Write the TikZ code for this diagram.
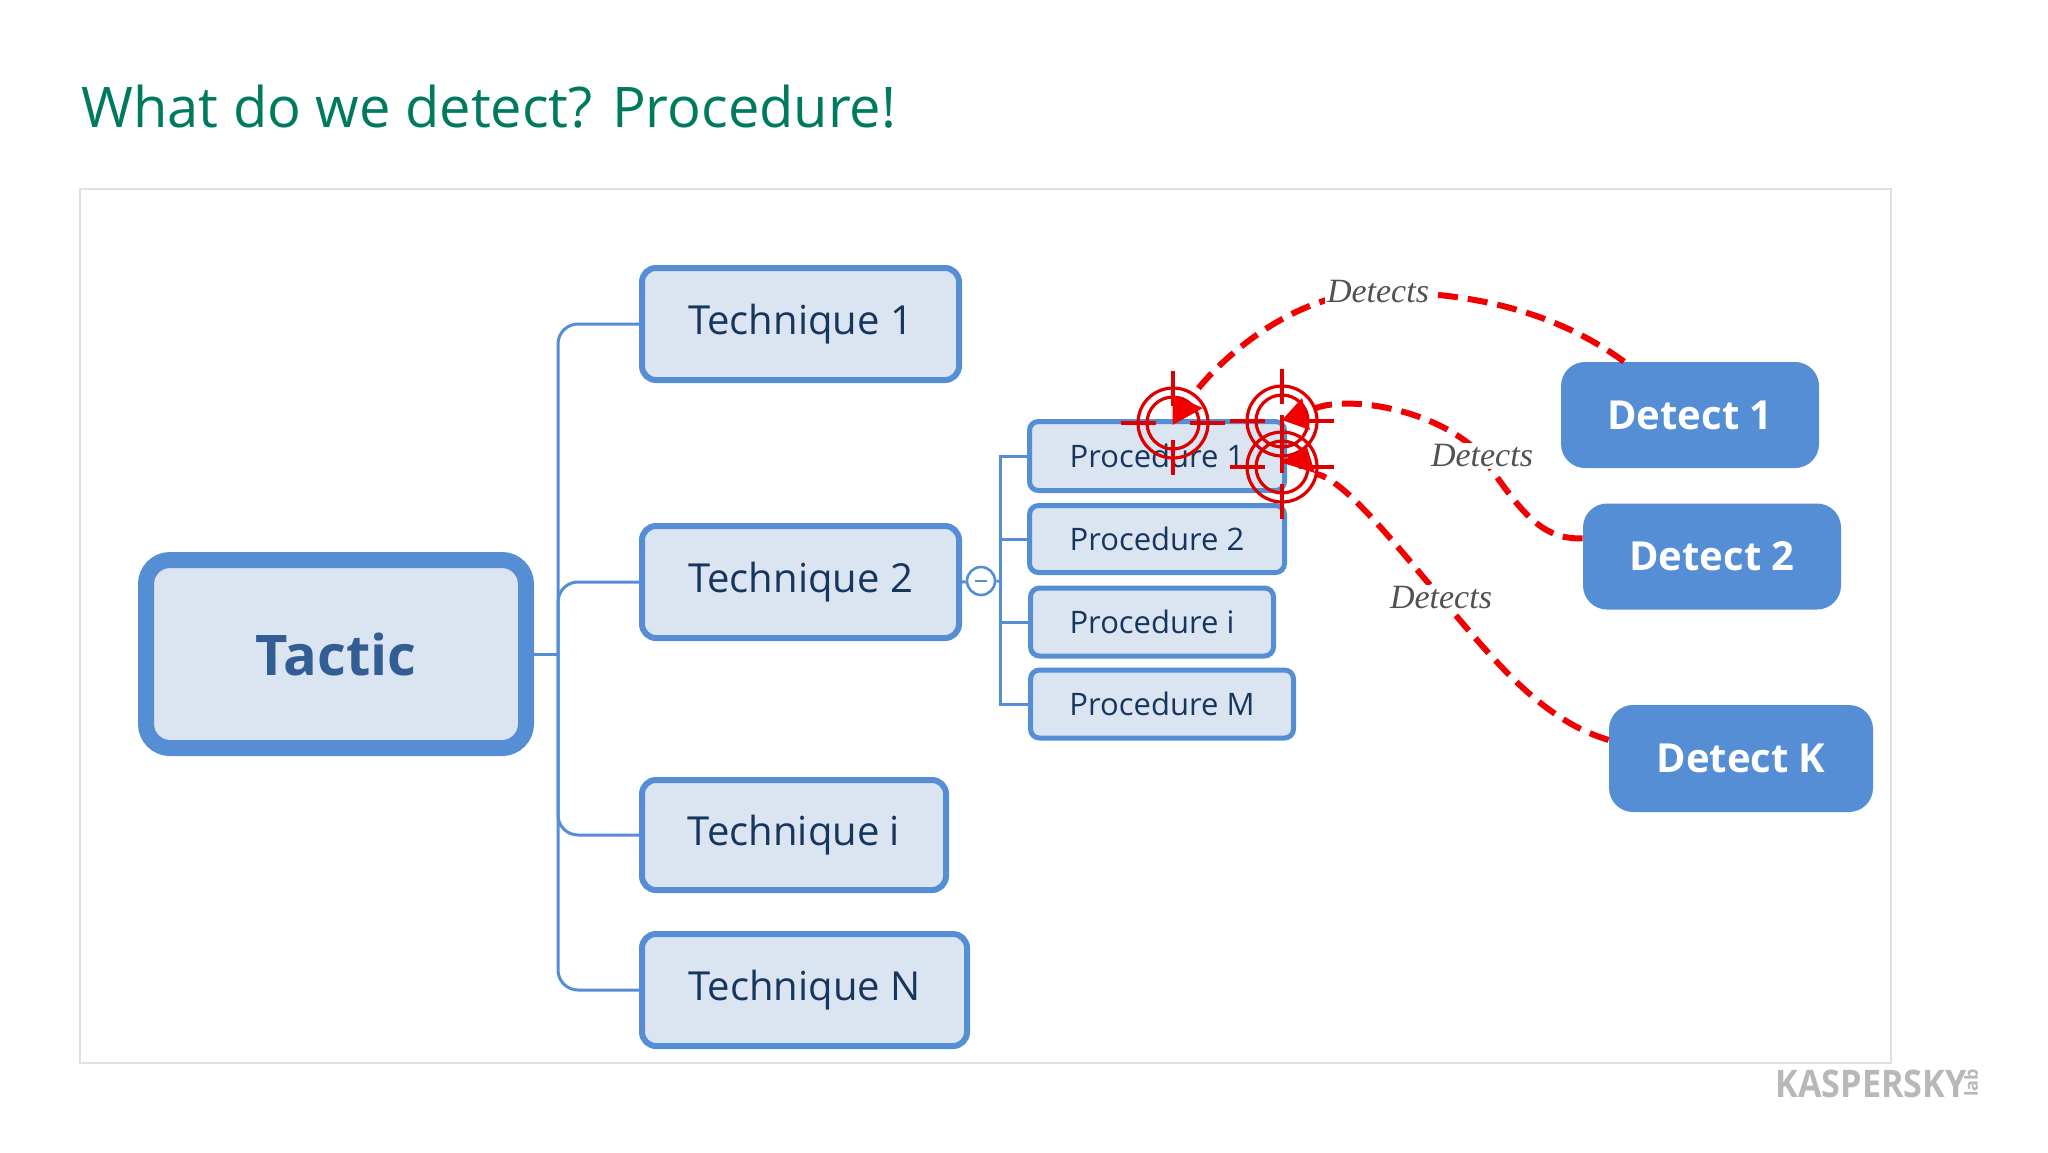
\documentclass[tikz,border=0pt]{standalone}
\usepackage{fontspec}
\setmainfont{Open Sans}
\newfontfamily\labelfont{Liberation Serif}
\usepackage{tikz}
\definecolor{boxline}{HTML}{558ED5}
\definecolor{boxfill}{HTML}{DBE5F1}
\definecolor{boxtext}{HTML}{17365D}
\definecolor{titlegreen}{HTML}{007A5E}
\definecolor{hitred}{HTML}{F00000}
\tikzset{
  mapbox/.style={draw=boxline, fill=boxfill, text=boxtext, rounded corners=7pt, line width=3pt, inner sep=0pt, font=\fontsize{20}{24}\selectfont},
  procbox/.style={mapbox, rounded corners=4.5pt, line width=2.5pt, font=\fontsize{15.5}{18}\selectfont},
  detectbox/.style={fill=boxline, text=white, rounded corners=12pt, inner sep=0pt, font=\fontsize{20}{24}\selectfont\bfseries},
  branch/.style={draw=boxline, line width=1.5pt},
  hitline/.style={draw=hitred, line width=3pt, dash pattern=on 10pt off 5pt, shorten >=18pt},
  hitlabel/.style={fill=white, inner sep=1pt, text=black!68, font=\labelfont\itshape\fontsize{17}{20}\selectfont},
  pics/crosshair/.style={code={
    \draw[hitred!92!black, line width=1.6pt] (0,0) circle (35);
    \draw[hitred!92!black, line width=1.6pt] (0,0) circle (26);
    \draw[hitred!92!black, line width=1.6pt] (-52,0) -- (-17,0) (17,0) -- (52,0) (0,-52) -- (0,-17) (0,17) -- (0,52);
  }},
}
\begin{document}
\begin{tikzpicture}[x=0.5pt, y=-0.5pt]
  \useasboundingbox (0,0) rectangle (2048,1152);
  \node[anchor=west, inner sep=0pt, text=titlegreen, font=\fontsize{28}{32}\selectfont] (title) at (81,107) {What do we detect? Procedure!};
  \draw[black!12, line width=0.6pt] (80,189) rectangle (1891,1063);
  % left side of the map
  \coordinate (trunk) at (558,654);
  \coordinate (ptrunk) at (1000,581);
  \node[mapbox, rounded corners=12pt, line width=8pt, minimum width=190pt, minimum height=94pt, font=\fontsize{28}{32}\selectfont\bfseries, text=boxline!45!boxtext] (tactic) at (336,654) {Tactic};
  \node[mapbox, minimum width=158.5pt, minimum height=56pt] (tech1) at (800.5,324) {Technique 1};
  \node[mapbox, minimum width=158.5pt, minimum height=56pt] (tech2) at (800.5,582) {Technique 2};
  \node[mapbox, minimum width=152pt, minimum height=55pt] (techi) at (794,835) {Technique i};
  \node[mapbox, minimum width=162.5pt, minimum height=56pt] (techN) at (804.5,990) {Technique N};
  \draw[branch] (tactic.east) -- (trunk);
  \draw[branch, rounded corners=10pt] (tech1.west) -| (trunk);
  \draw[branch, rounded corners=10pt] (tech2.west) -| (trunk);
  \draw[branch, rounded corners=10pt] (techi.west) -| (trunk);
  \draw[branch, rounded corners=10pt] (techN.west) -| (trunk);
  % procedures
  \node[procbox, minimum width=127.5pt, minimum height=34.5pt] (proc1) at (1157,456) {Procedure 1};
  \node[procbox, minimum width=127.5pt, minimum height=33.5pt] (proc2) at (1157,539) {Procedure 2};
  \node[procbox, minimum width=121.5pt, minimum height=34pt] (proci) at (1152,622) {Procedure i};
  \node[procbox, minimum width=131.5pt, minimum height=34pt] (procM) at (1162,704) {Procedure M};
  \node[circle, draw=boxline, fill=white, line width=1.3pt, minimum size=14pt, inner sep=0pt] (fold) at (981,581) {};
  \draw[line width=1.3pt, boxline!60!gray] (fold.center) ++(-6,0) -- ++(12,0);
  \draw[branch] (tech2.east) -- (fold) -- (ptrunk);
  \draw[branch] (proc1.west) -| (ptrunk);
  \draw[branch] (proc2.west) -| (ptrunk);
  \draw[branch] (proci.west) -| (ptrunk);
  \draw[branch] (procM.west) -| (ptrunk);
  % detection side
  \node[detectbox, minimum width=129pt, minimum height=53pt] (det1) at (1690,415) {Detect 1};
  \node[detectbox, minimum width=129pt, minimum height=53pt] (det2) at (1712,556.5) {Detect 2};
  \node[detectbox, minimum width=132pt, minimum height=53.5pt] (detK) at (1741,758.5) {Detect K};
  \coordinate (hit1) at (1173,423);
  \coordinate (hit2) at (1282,421);
  \coordinate (hit3) at (1282,467);
  \coordinate (via1) at (1378,292);
  \coordinate (via2) at (1482,456);
  \coordinate (via3) at (1441,598);
  \draw[hitline] (det1.141) .. controls (1560,315) and (1480,292) .. (via1) .. controls (1290,292) and (1215,365) .. (hit1);
  \draw[hitline] (det2.172) .. controls (1540,540) and (1520,510) .. (via2) .. controls (1440,410) and (1350,395) .. (hit2);
  \draw[hitline] (detK.172) .. controls (1540,720) and (1490,655) .. (via3) .. controls (1400,550) and (1345,480) .. (hit3);
  \node[hitlabel] (lbl1) at (via1) {Detects};
  \node[hitlabel] (lbl2) at (via2) {Detects};
  \node[hitlabel] (lbl3) at (via3) {Detects};
  \pic at (hit1) {crosshair};
  \pic at (hit2) {crosshair};
  \pic at (hit3) {crosshair};
  \fill[hitred] (1172.5,395) -- (1203,408) -- (1172.5,425) -- cycle;
  \fill[hitred] (1302,398) -- (1310,430) -- (1282,420) -- cycle;
  \fill[hitred] (1280,462) -- (1307,447) -- (1315,473) -- cycle;
  % logo
  \node[inner sep=0pt, text=black!28, xscale=0.9, font=\fontsize{19}{20}\selectfont\bfseries] (logo) at (1871,1084) {KASPERSKY};
  \node[inner sep=0pt, rotate=90, text=black!28, font=\fontsize{9}{10}\selectfont\bfseries] (loglab) at (1971,1083) {lab};
\end{tikzpicture}
\end{document}
